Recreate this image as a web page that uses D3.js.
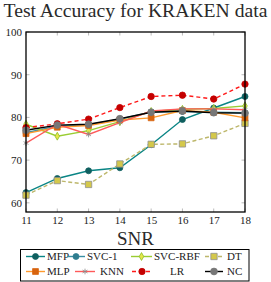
<!DOCTYPE html>
<html><head><meta charset="utf-8">
<script src="https://cdn.jsdelivr.net/npm/d3@7"></script>
<style>body{margin:0;background:#fff}svg{display:block}</style>
</head><body>
<script>
const snr = [11, 12, 13, 14, 15, 16, 17, 18];
const yTicks = [60, 70, 80, 90, 100];
const MFP    = [62.4, 65.7, 67.5, 68.2, 73.6, 79.5, 82.2, 84.9];
const SVC1   = [76.4, 78.0, 78.3, 79.6, 81.3, 81.4, 81.2, 81.1];
const SVCRBF = [78.4, 75.6, 76.9, 79.0, 81.4, 81.9, 82.1, 82.7];
const DT     = [61.8, 65.2, 64.3, 69.1, 73.7, 73.8, 75.7, 78.6];
const MLP    = [76.2, 77.7, 78.1, 79.4, 79.9, 81.6, 81.2, 79.9];
const KNN    = [74.0, 78.4, 76.0, 78.8, 81.5, 82.0, 82.0, 81.8];
const LR     = [77.6, 78.5, 79.6, 82.3, 84.9, 85.2, 84.3, 87.8];
const NC     = [77.0, 78.2, 78.4, 79.7, 81.2, 81.5, 81.1, 81.0];
const names  = ["MFP", "SVC-1", "SVC-RBF", "DT", "MLP", "KNN", "LR", "NC"];

const series = [
  {name:"MFP", v:MFP, line:"#0a8585", dash:null, sym:d3.symbolCircle, fill:"#0f5f5f", stroke:"#0f5f5f", size:28},
  {name:"SVC-1", v:SVC1, line:"#3a8fa3", dash:null, sym:d3.symbolCircle, fill:"#2f7d8f", stroke:"#2f7d8f", size:28},
  {name:"SVC-RBF", v:SVCRBF, line:"#9acd32", dash:null, sym:d3.symbolDiamond, fill:"#e6e64a", stroke:"#8cbf2a", size:18},
  {name:"DT", v:DT, line:"#bdb76b", dash:"4,2.5", sym:d3.symbolSquare, fill:"#d4c84a", stroke:"#8f8f8f", size:40},
  {name:"MLP", v:MLP, line:"#ff9a2e", dash:null, sym:d3.symbolSquare, fill:"#d8640f", stroke:"#d8640f", size:34},
  {name:"KNN", v:KNN, line:"#ff5a5a", dash:null, sym:d3.symbolAsterisk, fill:"none", stroke:"#888", size:22},
  {name:"LR", v:LR, line:"#ff1a1a", dash:"4,3", sym:d3.symbolCircle, fill:"#c40000", stroke:"#c40000", size:32},
  {name:"NC", v:NC, line:"#000", dash:null, sym:d3.symbolCircle, fill:"#777", stroke:"#777", size:36},
];

const W = 271, H = 282;
const svg = d3.select("body").append("svg").attr("width", W).attr("height", H);
const serif = "'Liberation Serif', 'DejaVu Serif', serif";

const x = d3.scaleLinear().domain([11, 18]).range([26, 245]);
const y = d3.scaleLinear().domain([57.85, 100]).range([212, 32]);

// title
const title = svg.append("text").attr("x", 135.5).attr("y", 17).attr("text-anchor", "middle")
  .attr("font-family", serif).attr("font-size", 19).attr("fill", "#2a2a2a").text("Test Accuracy for KRAKEN data");
function fitWidth(sel, target){ const w = sel.node().getComputedTextLength(); const fs = +sel.attr("font-size"); sel.attr("font-size", fs*target/w); }
fitWidth(title, 264);

// inward ticks
const tickG = svg.append("g").attr("stroke", "#aaa").attr("stroke-width", 0.8);
snr.forEach(s => {
  tickG.append("line").attr("x1", x(s)).attr("x2", x(s)).attr("y1", 212).attr("y2", 208.5);
  tickG.append("line").attr("x1", x(s)).attr("x2", x(s)).attr("y1", 32).attr("y2", 35.5);
});
yTicks.forEach(t => {
  tickG.append("line").attr("y1", y(t)).attr("y2", y(t)).attr("x1", 26).attr("x2", 29.5);
  tickG.append("line").attr("y1", y(t)).attr("y2", y(t)).attr("x1", 245).attr("x2", 241.5);
});

// tick labels via axes
const xAxis = svg.append("g").attr("transform", "translate(0,212)")
  .call(d3.axisBottom(x).tickValues(snr).tickSize(0).tickPadding(4).tickFormat(d3.format("d")));
const yAxis = svg.append("g").attr("transform", "translate(26,0)")
  .call(d3.axisLeft(y).tickValues(yTicks).tickSize(0).tickPadding(4));
[xAxis, yAxis].forEach(a => { a.select(".domain").remove(); a.selectAll("text").attr("font-family", serif).attr("font-size", 11).attr("fill", "#222"); });

// lines & markers
series.forEach(s => {
  const g = svg.append("g");
  const line = d3.line().x((d, i) => x(snr[i])).y(d => y(d));
  g.append("path").datum(s.v).attr("d", line).attr("fill", "none").attr("stroke", s.line)
    .attr("stroke-width", 1.4).attr("stroke-dasharray", s.dash);
  g.selectAll("path.m").data(s.v).join("path").attr("class", "m")
    .attr("transform", (d, i) => `translate(${x(snr[i])},${y(d)})`)
    .attr("d", d3.symbol().type(s.sym).size(s.size))
    .attr("fill", s.fill).attr("stroke", s.stroke).attr("stroke-width", 0.8);
});

// frame
svg.append("rect").attr("x", 26).attr("y", 32).attr("width", 219).attr("height", 180)
  .attr("fill", "none").attr("stroke", "#000").attr("stroke-width", 1.3);

// x label
svg.append("text").attr("x", 135.5).attr("y", 245).attr("text-anchor", "middle")
  .attr("font-family", serif).attr("font-size", 19).attr("fill", "#2a2a2a").text("SNR");

// legend
svg.append("rect").attr("x", 20.5).attr("y", 249.5).attr("width", 228.5).attr("height", 31.5)
  .attr("fill", "#fff").attr("stroke", "#000").attr("stroke-width", 1);
const legPos = [
  {l1:26, l2:45, t:47, r:0}, {l1:67, l2:85, t:87, r:0}, {l1:131, l2:152, t:154, r:0}, {l1:205, l2:223, t:227, r:0},
  {l1:26, l2:45, t:47, r:1}, {l1:75, l2:95, t:100, r:1}, {l1:132, l2:152, t:170, r:1}, {l1:205, l2:223, t:227, r:1},
];
series.forEach((s, i) => {
  const p = legPos[i];
  const cy = p.r ? 271.5 : 256.5;
  const g = svg.append("g");
  g.append("line").attr("x1", p.l1).attr("x2", p.l2).attr("y1", cy).attr("y2", cy)
    .attr("stroke", s.line).attr("stroke-width", 1.4).attr("stroke-dasharray", s.dash);
  g.append("path").attr("transform", `translate(${(p.l1 + p.l2) / 2},${cy})`)
    .attr("d", d3.symbol().type(s.sym).size(s.size))
    .attr("fill", s.fill).attr("stroke", s.stroke).attr("stroke-width", 0.8);
  g.append("text").attr("x", p.t).attr("y", cy + 3.8).attr("font-family", serif).attr("font-size", 11)
    .attr("fill", "#222").text(names[i]);
});
</script>
</body></html>
